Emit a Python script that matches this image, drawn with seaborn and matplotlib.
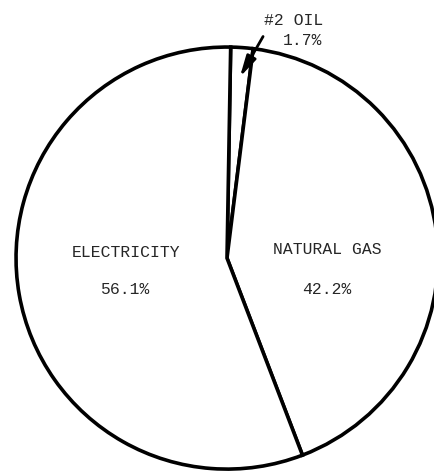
import numpy as np
import seaborn as sns
import matplotlib.pyplot as plt

# valores
fontes = ["#2 OIL", "NATURAL GAS", "ELECTRICITY"]
percentuais = [1.7, 42.2, 56.1]

sns.set_style("white")
plt.rcParams["font.family"] = ["Liberation Mono", "DejaVu Sans Mono"]

fig = plt.figure(figsize=(4.35, 4.71), dpi=100)
ax = fig.add_axes([0, 0, 1, 1])

inicio = 89  # graus, sentido anti-horario a partir do eixo x
ax.pie(percentuais, colors=["white"] * 3, startangle=inicio, counterclock=False,
       wedgeprops={"edgecolor": "black", "linewidth": 2.6})

ax.set_xlim(-1.076, 0.986)
ax.set_ylim(-1.009, 1.223)
ax.set_aspect("auto")
ax.axis("off")

fs = 11.8
# rotulos dentro das fatias
ax.text(-0.479, 0.028, fontes[2], ha="center", va="center", fontsize=fs)
ax.text(-0.483, -0.147, f"{percentuais[2]}%", ha="center", va="center", fontsize=fs)
ax.text(0.474, 0.043, fontes[1], ha="center", va="center", fontsize=fs)
ax.text(0.474, -0.147, f"{percentuais[1]}%", ha="center", va="center", fontsize=fs)

# rotulo do oleo com seta
ax.text(0.455, 1.128, fontes[0], ha="right", va="center", fontsize=fs)
ax.text(0.450, 1.033, f"{percentuais[0]}%", ha="right", va="center", fontsize=fs)
meio = np.deg2rad(inicio - percentuais[0] * 3.6 / 2)
ax.annotate("", xy=(0.86 * np.cos(meio), 0.86 * np.sin(meio)), xytext=(0.171, 1.05),
            arrowprops=dict(arrowstyle="-|>,head_length=0.9,head_width=0.22",
                            color="black", lw=2, mutation_scale=14,
                            shrinkA=0, shrinkB=0))

plt.savefig("out.png", dpi=100)
